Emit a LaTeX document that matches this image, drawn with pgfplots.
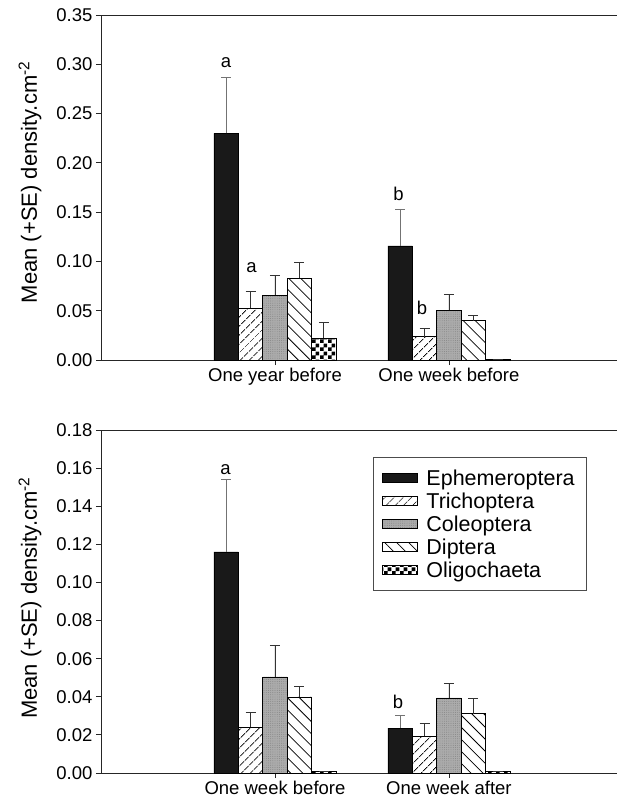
\documentclass[border=0pt]{standalone}
\usepackage{pgfplots}
\pgfplotsset{compat=1.18}
\usepackage{pgfplotstable}
\usepackage{fontspec}
\setmainfont{Liberation Sans}
\usetikzlibrary{patterns,patterns.meta}

\pgfdeclarepatternformonly{checker}{\pgfqpoint{0pt}{0pt}}{\pgfqpoint{8pt}{8pt}}{\pgfqpoint{8pt}{8pt}}{%
  \pgfpathrectangle{\pgfqpoint{0pt}{0pt}}{\pgfqpoint{4pt}{4pt}}%
  \pgfpathrectangle{\pgfqpoint{4pt}{4pt}}{\pgfqpoint{4pt}{4pt}}%
  \pgfusepath{fill}}

% top panel
\pgfplotstableread{
x y e
1 0.230 0.057
2 0.1157 0.0375
}\TEph
\pgfplotstableread{
x y e
1 0.0524 0.0169
2 0.0237 0.0081
}\TTri
\pgfplotstableread{
x y e
1 0.0659 0.0196
2 0.0504 0.0162
}\TCol
\pgfplotstableread{
x y e
1 0.0829 0.0162
2 0.0399 0.0054
}\TDip
\pgfplotstableread{
x y e
1 0.0220 0.0162
2 0.0010 0.0
}\TOli
% bottom panel
\pgfplotstableread{
x y e
1 0.1160 0.0379
2 0.0236 0.0065
}\BEph
\pgfplotstableread{
x y e
1 0.0239 0.0081
2 0.0192 0.0070
}\BTri
\pgfplotstableread{
x y e
1 0.0504 0.0168
2 0.0394 0.0075
}\BCol
\pgfplotstableread{
x y e
1 0.0399 0.0055
2 0.0311 0.0081
}\BDip
\pgfplotstableread{
x y e
1 0.0008 0.0
2 0.0008 0.0
}\BOli

\pgfplotsset{
  mybars/.style={
    scale only axis,
    width=516pt,
    xmin=0, xmax=2.966,
    ymin=0,
    axis lines*=left,
    axis line style={line width=0.8pt, black!85},
    tick align=outside,
    major tick length=5pt,
    tick style={line width=0.8pt, black!85},
    xtick={1,2},
    ytick pos=left, xtick pos=left,
    ybar=0pt,
    bar width=24.4pt,
    tick label style={font=\fontsize{18.5}{20}\selectfont},
    /pgf/number format/assume math mode=true,
    yticklabel style={/pgf/number format/fixed,/pgf/number format/fixed zerofill,/pgf/number format/precision=2},
    scaled y ticks=false,
    ylabel={Mean (+SE) density.cm\textsuperscript{-2}},
    ylabel style={font=\fontsize{22}{24}\selectfont, anchor=center},
    legend image code/.code={\draw[#1] (0pt,-4.5pt) rectangle (35pt,4.5pt);},
    legend cell align=left,
    legend style={font=\fontsize{21.5}{23}\selectfont, draw=black!70, line width=0.8pt, inner xsep=8pt, inner ysep=10pt, row sep=2pt,
      column sep=5pt, nodes={inner xsep=4pt}},
  },
  ebars/.style={error bars/.cd, y dir=plus, y explicit,
    error bar style={line width=0.8pt, color=#1},
    error mark options={rotate=90, mark size=5pt, line width=0.8pt, color=#1}},
  seph/.style={fill=black!90, draw=black, line width=0.8pt},
  stri/.style={draw=black, line width=0.8pt, pattern={Lines[angle=45,distance=6.5pt,line width=0.8pt]}, pattern color=black},
  scol/.style={draw=black, line width=0.8pt, fill=black!33, postaction={pattern={Dots[distance=2.2pt,radius=0.45pt]}, pattern color=black!50}},
  sdip/.style={draw=black, line width=0.8pt, fill=white, postaction={pattern={Lines[angle=-45,distance=8.5pt,line width=0.8pt]}, pattern color=black}},
  soli/.style={draw=black, line width=0.8pt, fill=white, postaction={pattern=checker, pattern color=black}},
}

\begin{document}
\begin{tikzpicture}
\begin{axis}[mybars, at={(0pt,0pt)}, anchor=south west, height=345pt,
  ymax=0.35, ytick={0,0.05,...,0.351},
  xticklabels={One year before, One week before},
  ylabel style={at={(axis description cs:-0.1376,0.515)}}]
\addplot[seph, ebars=black!55] table[x=x,y=y,y error=e]{\TEph};
\addplot[stri, ebars=black!80] table[x=x,y=y,y error=e]{\TTri};
\addplot[scol, ebars=black!80] table[x=x,y=y,y error=e]{\TCol};
\addplot[sdip, ebars=black!80] table[x=x,y=y,y error=e]{\TDip};
\addplot[soli, ebars=black!80] table[x=x,y=y,y error=e]{\TOli};
\draw[line width=0.8pt, black!85] (rel axis cs:0,1) -- (rel axis cs:1,1);
\node[anchor=base, inner sep=0pt, font=\fontsize{18.5}{20}\selectfont] at (axis cs:0.718,0.2972) {a};
\node[anchor=base, inner sep=0pt, font=\fontsize{18.5}{20}\selectfont] at (axis cs:0.865,0.0883) {a};
\node[anchor=base, inner sep=0pt, font=\fontsize{18.5}{20}\selectfont] at (axis cs:1.71,0.1623) {b};
\node[anchor=base, inner sep=0pt, font=\fontsize{18.5}{20}\selectfont] at (axis cs:1.845,0.0457) {b};
\end{axis}

\begin{axis}[mybars, at={(0pt,-413pt)}, anchor=south west, height=343pt,
  ymax=0.18, ytick={0,0.02,...,0.181},
  xticklabels={One week before, One week after},
  ylabel style={at={(axis description cs:-0.1376,0.51)}},
  legend style={at={(rel axis cs:0.942,0.921)}, anchor=north east}]
\addplot[seph, ebars=black!55] table[x=x,y=y,y error=e]{\BEph};
\addplot[stri, ebars=black!80] table[x=x,y=y,y error=e]{\BTri};
\addplot[scol, ebars=black!80] table[x=x,y=y,y error=e]{\BCol};
\addplot[sdip, ebars=black!80] table[x=x,y=y,y error=e]{\BDip};
\addplot[soli, ebars=black!80] table[x=x,y=y,y error=e]{\BOli};
\legend{Ephemeroptera, Trichoptera, Coleoptera, Diptera, Oligochaeta}
\draw[line width=0.8pt, black!85] (rel axis cs:0,1) -- (rel axis cs:1,1);
\node[anchor=base, inner sep=0pt, font=\fontsize{18.5}{20}\selectfont] at (axis cs:0.716,0.1564) {a};
\node[anchor=base, inner sep=0pt, font=\fontsize{18.5}{20}\selectfont] at (axis cs:1.707,0.0341) {b};
\end{axis}
\pgfresetboundingbox
\useasboundingbox (-101pt,-447pt) rectangle (516pt,360pt);
\end{tikzpicture}
\end{document}
